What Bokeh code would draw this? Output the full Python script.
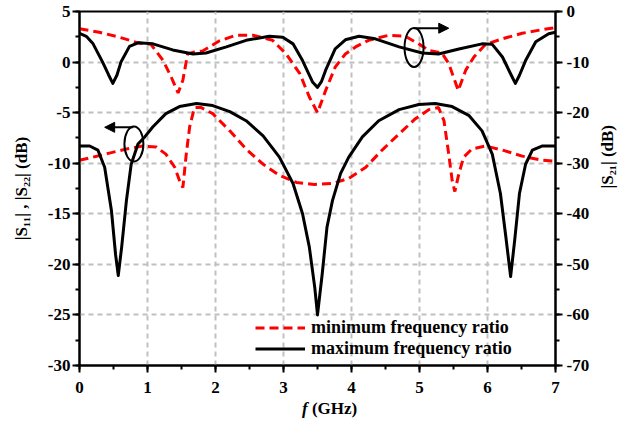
import math
from bokeh.plotting import figure
from bokeh.layouts import column
from bokeh.models import (Range1d, LinearAxis, SingleIntervalTicker, Legend,
                          LegendItem, Arrow, NormalHead, PrintfTickFormatter, Div)
from bokeh.embed import file_html
from bokeh.resources import INLINE

# ---------------- data ----------------
# |S21| (right axis, dB) - maximum frequency ratio
s21_max_f = [0, 0.1, 0.2, 0.34, 0.43, 0.49, 0.55, 0.61, 0.735, 0.86, 1.08, 1.37, 1.67,
             1.86, 2.16, 2.45, 2.79, 2.99, 3.14, 3.28, 3.43, 3.5, 3.56, 3.62, 3.76,
             3.91, 4.11, 4.35, 4.70, 5.04, 5.28, 5.58, 5.92, 6.07, 6.22, 6.35, 6.41,
             6.47, 6.56, 6.71, 6.90, 7.0]
s21_max_db = [-4.3, -4.9, -6.4, -10.0, -12.6, -14.2, -12.6, -10.0, -6.9, -6.2, -6.4,
              -7.6, -8.4, -8.2, -7.0, -5.7, -4.9, -5.1, -6.4, -9.7, -14.0, -15.0,
              -13.8, -11.6, -7.4, -5.6, -4.9, -5.4, -7.0, -8.2, -8.4, -7.4, -6.4,
              -6.5, -9.0, -12.6, -14.2, -12.6, -9.7, -6.0, -4.4, -4.1]

# |S21| (right axis, dB) - minimum frequency ratio
s21_min_f = [0, 0.29, 0.59, 0.86, 1.05, 1.23, 1.35, 1.45, 1.52, 1.59, 1.69, 1.81, 2.06,
             2.30, 2.55, 2.84, 3.04, 3.24, 3.38, 3.50, 3.62, 3.76, 3.91, 4.06, 4.25,
             4.55, 4.79, 4.99, 5.14, 5.33, 5.43, 5.57, 5.68, 5.80, 5.97, 6.22, 6.51,
             6.80, 7.0]
s21_min_db = [-3.4, -4.1, -5.1, -6.2, -6.5, -9.7, -13.0, -16.1, -13.6, -8.4, -8.0, -7.8,
              -5.8, -4.7, -4.7, -5.7, -8.4, -12.3, -16.9, -20.0, -15.6, -11.0, -8.4,
              -7.0, -5.7, -4.7, -4.9, -6.4, -7.7, -8.2, -10.3, -15.6, -11.6, -9.0,
              -6.5, -5.4, -4.3, -3.6, -3.2]

# |S11|, |S22| (left axis, dB) - maximum frequency ratio
s11_max_f = [0, 0.15, 0.27, 0.37, 0.47, 0.53, 0.57, 0.62, 0.69, 0.76, 0.86, 0.96, 1.08,
             1.27, 1.47, 1.72, 1.96, 2.21, 2.45, 2.70, 2.94, 3.14, 3.28, 3.38, 3.46,
             3.50, 3.57, 3.64, 3.72, 3.84, 3.96, 4.16, 4.40, 4.70, 4.99, 5.23, 5.48,
             5.73, 5.92, 6.07, 6.19, 6.27, 6.34, 6.40, 6.47, 6.56, 6.66, 6.80, 7.0]
s11_max_db = [-8.3, -8.3, -8.7, -10.4, -14.7, -19.0, -21.1, -18.3, -13.7, -10.1, -8.1,
              -7.4, -6.4, -5.1, -4.4, -4.1, -4.3, -4.9, -5.8, -7.3, -9.4, -12.0,
              -15.0, -18.3, -22.3, -25.0, -20.9, -16.3, -13.7, -11.0, -9.4, -7.4,
              -5.8, -4.7, -4.2, -4.1, -4.4, -5.3, -6.8, -9.1, -13.0, -17.3, -21.2,
              -17.6, -13.0, -10.1, -8.7, -8.3, -8.3]

# |S11|, |S22| (left axis, dB) - minimum frequency ratio
s11_min_f = [0, 0.2, 0.44, 0.69, 0.93, 1.13, 1.27, 1.40, 1.47, 1.52, 1.57, 1.62, 1.69,
             1.79, 1.96, 2.21, 2.45, 2.70, 2.94, 3.19, 3.45, 3.72, 3.96, 4.21, 4.45,
             4.70, 4.94, 5.14, 5.28, 5.36, 5.43, 5.48, 5.52, 5.58, 5.65, 5.77, 5.97,
             6.22, 6.51, 6.80, 7.0]
s11_min_db = [-9.7, -9.4, -9.0, -8.6, -8.3, -8.4, -9.1, -10.4, -11.7, -12.4, -9.1, -6.4,
              -4.5, -4.5, -5.1, -6.8, -8.6, -10.1, -11.2, -11.9, -12.1, -12.0, -11.5,
              -10.4, -8.7, -7.1, -5.6, -4.7, -4.5, -5.8, -9.1, -11.7, -12.8, -11.0,
              -9.4, -8.6, -8.3, -8.7, -9.3, -9.7, -9.8]

series_labels = ["minimum frequency ratio", "maximum frequency ratio"]

# annotation markers (ellipse + arrow) in data units
left_mark = dict(x=0.80, y=-8.1, ax0=0.79, ax1=0.37, ay=-6.45)
right_mark = dict(x=4.92, y=-7.1, ax0=4.92, ax1=5.43, ay=-3.3)

FONT = "Liberation Serif"
RED = "#ff0000"

p = figure(width=630, height=401, x_range=Range1d(0, 7), y_range=Range1d(-30, 5),
           output_backend="svg", toolbar_location=None,
           min_border_left=79, min_border_right=75, min_border_top=11,
           min_border_bottom=36, background_fill_color="white",
           border_fill_color="white")
p.extra_y_ranges = {"s21": Range1d(-70, 0)}
p.outline_line_color = "black"
p.outline_line_width = 2

right_axis = LinearAxis(y_range_name="s21")
p.add_layout(right_axis, "right")

p.xaxis.ticker = SingleIntervalTicker(interval=1, num_minor_ticks=2)
p.yaxis[0].ticker = SingleIntervalTicker(interval=5, num_minor_ticks=2)
right_axis.ticker = SingleIntervalTicker(interval=10, num_minor_ticks=2)

for ax in [p.xaxis[0], p.yaxis[0], right_axis]:
    ax.formatter = PrintfTickFormatter(format="%d")
    ax.axis_line_width = 2
    ax.axis_line_color = "black"
    ax.major_tick_line_width = 2
    ax.minor_tick_line_width = 2
    ax.major_tick_out = 7
    ax.major_tick_in = 0
    ax.minor_tick_out = 4
    ax.minor_tick_in = 0
    ax.major_label_text_font = FONT
    ax.major_label_text_font_style = "bold"
    ax.major_label_text_font_size = "17px"
    ax.major_label_text_color = "black"
    ax.axis_label_text_font = FONT
    ax.axis_label_text_font_style = "bold"
    ax.axis_label_text_font_size = "17px"
    ax.axis_label_text_color = "black"

p.xaxis.major_label_standoff = 9
p.yaxis[0].major_label_standoff = 2
right_axis.major_label_standoff = 4

p.yaxis[0].axis_label = "|S\u2081\u2081| , |S\u2082\u2082| (dB)"
p.yaxis[0].axis_label_standoff = 14
right_axis.axis_label = "|S\u2082\u2081| (dB)"
right_axis.axis_label_standoff = 15
right_axis.axis_label_orientation = math.pi / 2

for g in [p.xgrid, p.ygrid]:
    g.grid_line_color = "#c0c0c0"
    g.grid_line_width = 2
    g.grid_line_dash = "5 4"

# curves
r_s21_min = p.line(s21_min_f, s21_min_db, y_range_name="s21", line_color=RED,
                   line_width=3, line_dash="9 5")
r_s21_max = p.line(s21_max_f, s21_max_db, y_range_name="s21", line_color="black",
                   line_width=3, line_join="round")
r_s11_min = p.line(s11_min_f, s11_min_db, line_color=RED, line_width=3, line_dash="9 5")
r_s11_max = p.line(s11_max_f, s11_max_db, line_color="black", line_width=3,
                   line_join="round")

# annotation ellipses + arrows
p.ellipse(x=[left_mark["x"]], y=[left_mark["y"]], width=19, height=35,
          width_units="screen", height_units="screen", fill_color=None,
          line_color="black", line_width=2)
p.ellipse(x=[right_mark["x"]], y=[right_mark["y"]], width=19, height=39,
          width_units="screen", height_units="screen", fill_color=None,
          line_color="black", line_width=2, y_range_name="s21")
p.add_layout(Arrow(x_start=left_mark["ax0"], y_start=left_mark["ay"],
                   x_end=left_mark["ax1"], y_end=left_mark["ay"], line_width=2,
                   end=NormalHead(size=10, fill_color="black", line_color="black")))
p.add_layout(Arrow(x_start=right_mark["ax0"], y_start=right_mark["ay"],
                   x_end=right_mark["ax1"], y_end=right_mark["ay"], line_width=2,
                   y_range_name="s21",
                   end=NormalHead(size=10, fill_color="black", line_color="black")))

legend = Legend(items=[LegendItem(label=series_labels[0], renderers=[r_s11_min]),
                       LegendItem(label=series_labels[1], renderers=[r_s11_max])],
                location=(176, 6), orientation="vertical")
legend.border_line_color = None
legend.background_fill_alpha = 0
legend.padding = 0
legend.margin = 0
legend.spacing = 0
legend.glyph_width = 50
legend.glyph_height = 19
legend.label_height = 19
legend.label_standoff = 6
legend.label_text_font = FONT
legend.label_text_font_style = "bold"
legend.label_text_font_size = "18px"
legend.label_text_color = "black"
p.add_layout(legend)

# x-axis title with italic f
xlabel = Div(text=("<div style=\"padding-left:297px; position:relative; top:-4px; "
                   "font-family:'Liberation Serif'; font-weight:bold; font-size:17px; "
                   "line-height:10px; color:black; white-space:nowrap;\">"
                   "<i>f</i> (GHz)</div>"),
             width=630, height=24)

layout = column(p, xlabel, spacing=0)
open("out.html", "w").write(file_html(layout, INLINE))
